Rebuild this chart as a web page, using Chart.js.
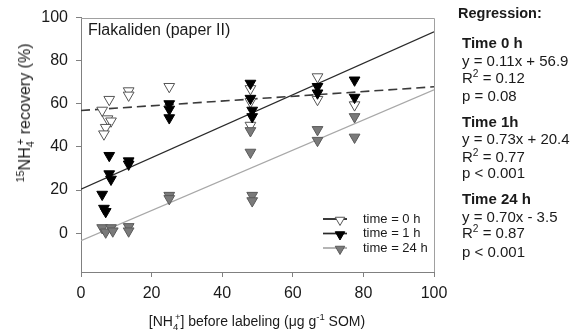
<!DOCTYPE html>
<html><head><meta charset="utf-8">
<script src="https://cdn.jsdelivr.net/npm/chart.js@4/dist/chart.umd.min.js"></script>
<style>
html,body{margin:0;padding:0;background:#fff;overflow:hidden;width:574px;height:332px}
#wrap{position:relative;width:574px;height:332px;font-family:"Liberation Sans",Arial,sans-serif;color:#1a1a1a;overflow:hidden}
canvas{position:absolute;left:0;top:0}
.t{position:absolute;white-space:nowrap;line-height:1}
.reg{left:462px;font-size:15px}
.b{font-weight:bold}
sup,sub{font-size:68%;line-height:0}
</style></head>
<body><div id="wrap"><canvas id="c" width="574" height="332"></canvas>
<div class="t" style="left:88px;top:22px;font-size:16px">Flakaliden (paper II)</div>
<div class="t" style="left:25px;top:113px;font-size:16px;transform:translate(-50%,-50%) rotate(-90deg)"><sup>15</sup>NH<sub>4</sub><sup style="margin-left:-0.35em">+</sup> recovery (%)</div>
<div class="t" style="left:257px;top:321px;font-size:14px;transform:translate(-50%,-50%)">[NH<sub>4</sub><sup style="margin-left:-0.35em">+</sup>] before labeling (μg g<sup>-1</sup> SOM)</div>
<div class="t b" style="left:458px;top:6px;font-size:14.5px">Regression:</div>
<div class="t reg b" style="top:35px">Time 0 h</div>
<div class="t reg" style="top:53px">y = 0.11x + 56.9</div>
<div class="t reg" style="top:70px">R<sup>2</sup> = 0.12</div>
<div class="t reg" style="top:88px">p = 0.08</div>
<div class="t reg b" style="top:114px">Time 1h</div>
<div class="t reg" style="top:131px">y = 0.73x + 20.4</div>
<div class="t reg" style="top:149px">R<sup>2</sup> = 0.77</div>
<div class="t reg" style="top:165px">p &lt; 0.001</div>
<div class="t reg b" style="top:191px">Time 24 h</div>
<div class="t reg" style="top:209px">y = 0.70x - 3.5</div>
<div class="t reg" style="top:225px">R<sup>2</sup> = 0.87</div>
<div class="t reg" style="top:244px">p &lt; 0.001</div>
</div>
<script>
// ---- data ----
const xTicks = [0, 20, 40, 60, 80, 100];
const yTicks = [0, 20, 40, 60, 80, 100];
const seriesNames = ['time = 0 h', 'time = 1 h', 'time = 24 h'];

const x0h = [6, 7.5, 8.5, 7, 6.5, 8, 13.5, 13.5, 25, 48, 48, 48, 67, 67, 77.5];
const y0h = [57, 53, 52, 49, 46, 62, 66, 64, 68, 67, 61, 50, 72.5, 62, 59.5];

const x1h = [8, 13.5, 13.5, 8, 8.5, 6, 6.5, 7, 25, 25, 25, 48, 48, 48.5, 48.5, 67, 67, 77.5, 77.5];
const y1h = [36, 33.5, 32, 27.5, 25, 18, 11.5, 10, 60, 57.5, 53.5, 69.5, 62.5, 57, 54, 68, 65, 71, 63];

const x24h = [6, 8.5, 7, 9, 13.5, 13.5, 25, 25, 48, 48, 48.5, 48.5, 67, 67, 77.5, 77.5];
const y24h = [2.5, 2.5, 0.5, 1, 3, 1, 17.5, 16, 47.5, 37.5, 17.5, 15, 48, 43, 54, 44.5];

// regression lines: end points at x = 0 and x = 100 (from printed equations)
const regX = [0, 100];
const reg0h = [56.9, 67.9];
const reg1h = [20.4, 93.4];
const reg24h = [-3.5, 66.5];

const pts = (xs, ys) => xs.map((x, i) => ({x, y: ys[i]}));
const styles = [
  {fill: '#ffffff', stroke: '#555555', line: '#3a3a3a', dash: [9, 5], lw: 1.6},
  {fill: '#000000', stroke: '#000000', line: '#2a2a2a', dash: [], lw: 1.3},
  {fill: '#7a7a7a', stroke: '#5a5a5a', line: '#a8a8a8', dash: [], lw: 1.3}
];
const scatterSets = [pts(x0h, y0h), pts(x1h, y1h), pts(x24h, y24h)];
const lineSets = [reg0h, reg1h, reg24h];

const datasets = [];
scatterSets.forEach((d, i) => datasets.push({
  label: seriesNames[i], data: d, showLine: false,
  pointStyle: 'triangle', rotation: 180, radius: 6.2, pointRadius: 6.2,
  backgroundColor: styles[i].fill, borderColor: styles[i].stroke, borderWidth: 1,
  order: 3 - i
}));
lineSets.forEach((ys, i) => datasets.push({
  label: seriesNames[i] + ' fit', data: pts(regX, ys), showLine: true, pointRadius: 0,
  borderColor: styles[i].line, borderDash: styles[i].dash, borderWidth: styles[i].lw,
  fill: false, order: 10 + i
}));

const framePlugin = {
  id: 'frame',
  beforeDatasetsDraw(chart) {
    const {ctx, chartArea: a} = chart;
    ctx.save();
    ctx.strokeStyle = '#a0a0a0'; ctx.lineWidth = 1;
    ctx.beginPath();
    ctx.moveTo(a.left, Math.round(a.top) + 0.5);
    ctx.lineTo(Math.round(a.right) + 0.5, Math.round(a.top) + 0.5);
    ctx.lineTo(Math.round(a.right) + 0.5, a.bottom);
    ctx.stroke();
    ctx.restore();
  }
};

const legendPlugin = {
  id: 'innerLegend',
  afterDraw(chart) {
    const {ctx, chartArea: a} = chart;
    ctx.save();
    seriesNames.forEach((name, i) => {
      const y = a.bottom - 53 + i * 14.5;
      const s = styles[i];
      ctx.strokeStyle = s.line; ctx.lineWidth = s.lw + 0.4; ctx.setLineDash([]);
      ctx.beginPath(); ctx.moveTo(a.right - 111, y); ctx.lineTo(a.right - 87, y); ctx.stroke();
      ctx.fillStyle = s.fill; ctx.strokeStyle = s.stroke; ctx.lineWidth = 1;
      Chart.helpers.drawPoint(ctx, {pointStyle: 'triangle', rotation: 180, radius: 5.5, borderWidth: 1}, a.right - 94, y + 1);
      ctx.fillStyle = '#1a1a1a';
      ctx.font = '13px "Liberation Sans", Arial, sans-serif';
      ctx.textBaseline = 'middle'; ctx.textAlign = 'left';
      ctx.fillText(name, a.right - 71, y);
    });
    ctx.restore();
  }
};

new Chart(document.getElementById('c'), {
  type: 'scatter',
  data: {datasets},
  options: {
    responsive: false, animation: false,
    layout: {padding: {left: 0, right: 140, top: 17, bottom: 0}},
    plugins: {legend: {display: false}, tooltip: {enabled: false}},
    scales: {
      x: {
        type: 'linear', min: 0, max: 100,
        afterBuildTicks: s => { s.ticks = xTicks.map(v => ({value: v})); },
        afterFit: s => { s.height = 60; },
        grid: {drawOnChartArea: false, drawTicks: true, tickLength: 5, color: '#808080'},
        border: {display: true, color: '#808080', width: 1},
        ticks: {color: '#1a1a1a', font: {family: '"Liberation Sans", Arial, sans-serif', size: 16}, padding: 7, maxRotation: 0}
      },
      y: {
        type: 'linear', min: -18, max: 100,
        afterBuildTicks: s => { s.ticks = yTicks.map(v => ({value: v})); },
        afterFit: s => { s.width = 81; },
        grid: {drawOnChartArea: false, drawTicks: true, tickLength: 5, color: '#808080'},
        border: {display: true, color: '#808080', width: 1},
        ticks: {color: '#1a1a1a', font: {family: '"Liberation Sans", Arial, sans-serif', size: 16}, padding: 8}
      }
    }
  },
  plugins: [framePlugin, legendPlugin]
});
</script>
</body></html>
